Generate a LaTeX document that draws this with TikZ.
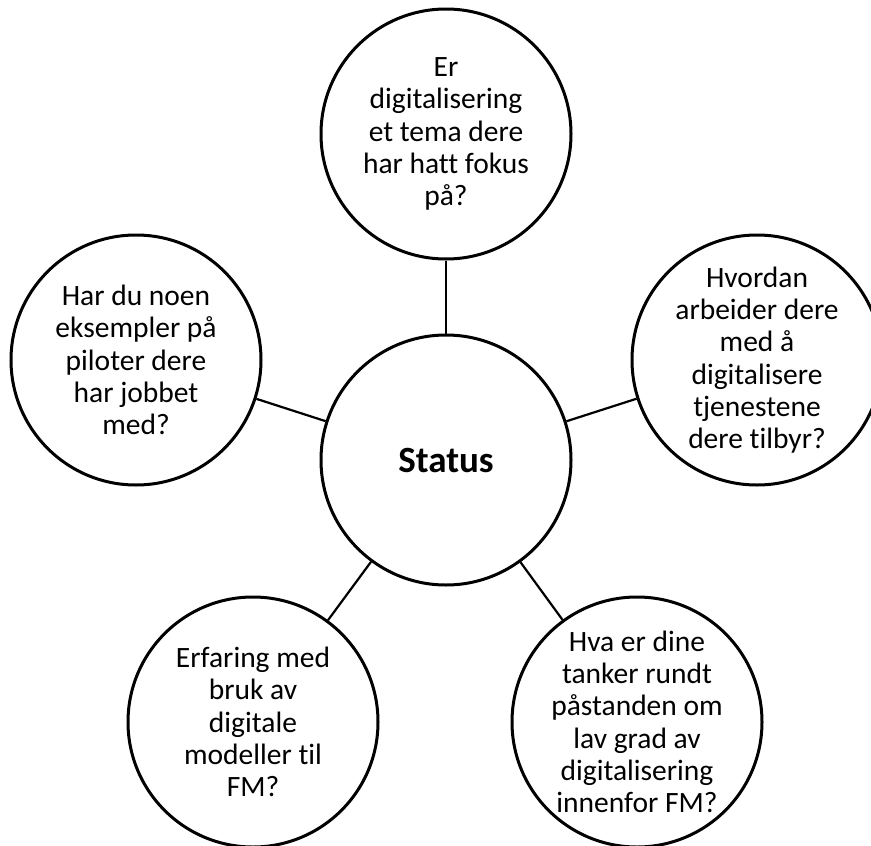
\documentclass[tikz,border=0pt]{standalone}
\usepackage{fontspec}
\setmainfont[Ligatures=NoCommon]{Carlito}
\begin{document}
\begin{tikzpicture}[x=1pt,y=-1pt,
  bub/.style={circle, draw=black, line width=3pt, minimum size=250pt, inner sep=0pt, align=center, font=\fontsize{29.5}{32.3}\selectfont},
  conn/.style={draw=black, line width=2.2pt}]
\useasboundingbox (0,0) rectangle (871,846);
\node[bub, font=\bfseries\fontsize{37}{40}\selectfont] (c) at (446,460) {Status};
\node[bub] (t) at (446,134) {Er\\digitalisering\\et tema dere\\har hatt fokus\\på?};
\node[bub] (l) at (136,360) {Har du noen\\eksempler på\\piloter dere\\har jobbet\\med?};
\node[bub] (r) at (757,360) {Hvordan\\arbeider dere\\med å\\digitalisere\\tjenestene\\dere tilbyr?};
\node[bub] (bl) at (253,722) {Erfaring med\\bruk av\\digitale\\modeller til\\FM?};
\node[bub] (br) at (637,722) {Hva er dine\\tanker rundt\\påstanden om\\lav grad av\\digitalisering\\innenfor FM?};
\draw[conn] (c) -- (t);
\draw[conn] (c) -- (l);
\draw[conn] (c) -- (r);
\draw[conn] (c) -- (bl);
\draw[conn] (c) -- (br);
\end{tikzpicture}
\end{document}
